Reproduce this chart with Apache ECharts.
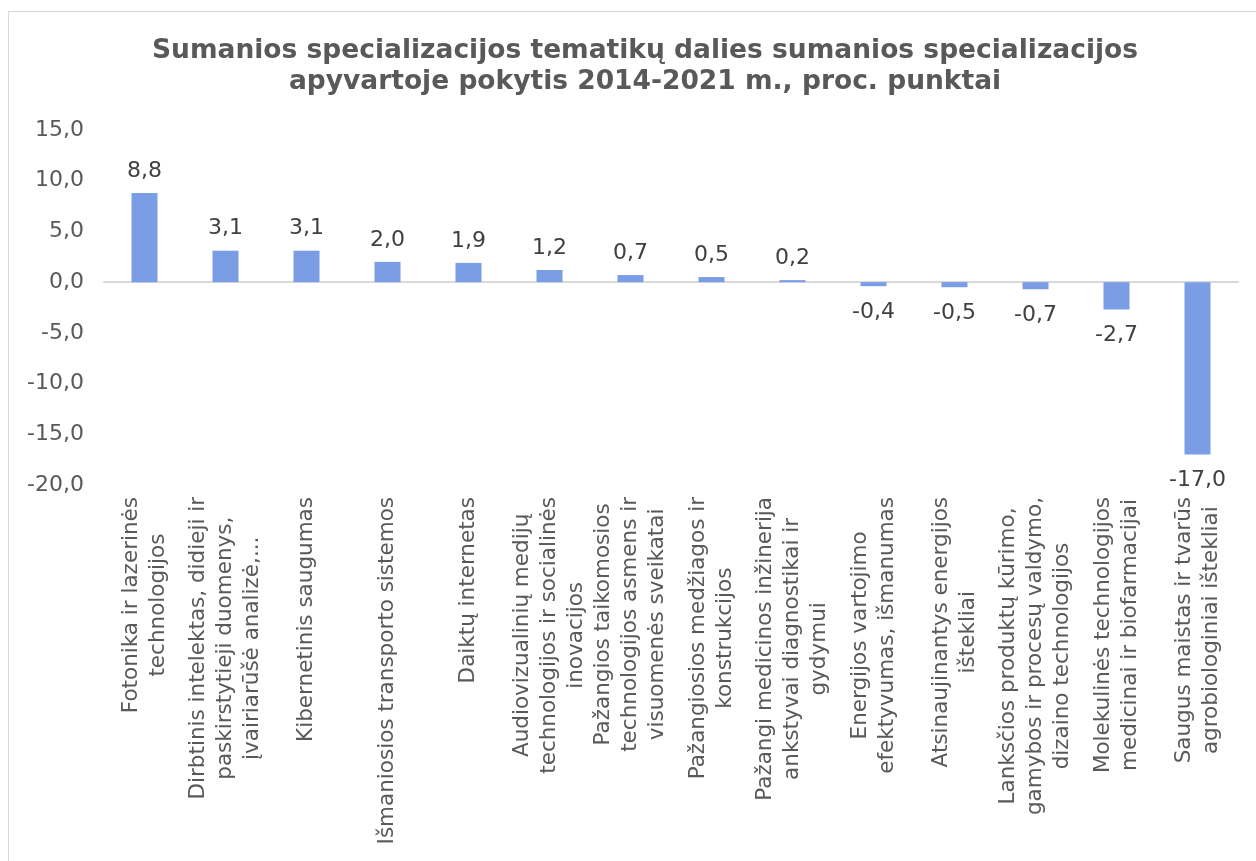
<!DOCTYPE html>
<html>
<head>
<meta charset="utf-8">
<script src="https://cdn.jsdelivr.net/npm/echarts@6/dist/echarts.min.js"></script>
<style>
  html, body { margin: 0; padding: 0; background: #fff; }
  #frame { position: absolute; left: 8px; top: 11px; width: 1300px; height: 900px; border: 1px solid #d9d9d9; }
  #main { position: absolute; left: 0; top: 0; width: 1256px; height: 861px; }
</style>
</head>
<body>
<div id="frame"></div>
<div id="main"></div>
<script>
const titleLines = [
  'Sumanios specializacijos tematikų dalies sumanios specializacijos',
  'apyvartoje pokytis 2014-2021 m., proc. punktai'
]

const categories = [
  'Fotonika ir lazerinės\ntechnologijos',
  'Dirbtinis intelektas, didieji ir\npaskirstytieji duomenys,\nįvairiarūšė analizė,...',
  'Kibernetinis saugumas',
  'Išmaniosios transporto sistemos',
  'Daiktų internetas',
  'Audiovizualinių medijų\ntechnologijos ir socialinės\ninovacijos',
  'Pažangios taikomosios\ntechnologijos asmens ir\nvisuomenės sveikatai',
  'Pažangiosios medžiagos ir\nkonstrukcijos',
  'Pažangi medicinos inžinerija\nankstyvai diagnostikai ir\ngydymui',
  'Energijos vartojimo\nefektyvumas, išmanumas',
  'Atsinaujinantys energijos\ništekliai',
  'Lanksčios produktų kūrimo,\ngamybos ir procesų valdymo,\ndizaino technologijos',
  'Molekulinės technologijos\nmedicinai ir biofarmacijai',
  'Saugus maistas ir tvarūs\nagrobiologiniai ištekliai'
]

const values = [8.8, 3.1, 3.1, 2.0, 1.9, 1.2, 0.7, 0.5, 0.2, -0.4, -0.5, -0.7, -2.7, -17.0]

const yMin = -20
const yMax = 15
const yStep = 5

const font = '"DejaVu Sans", Verdana, sans-serif'
const fmt = v => v.toFixed(1).replace('.', ',')

const chart = echarts.init(document.getElementById('main'))

const option = {
  animation: false,
  title: {
    text: titleLines.join('\n'),
    left: 640,
    textAlign: 'center',
    top: 31,
    textStyle: {
      fontFamily: font,
      fontSize: 26.5,
      fontWeight: 'bold',
      color: '#595959',
      lineHeight: 31
    }
  },
  grid: {
    left: 104,
    right: 18,
    top: 130,
    bottom: 376
  },
  xAxis: [
    {
      type: 'category',
      data: categories,
      axisLine: { onZero: true, lineStyle: { color: '#d9d9d9', width: 2 } },
      axisTick: { show: false },
      axisLabel: { show: false }
    },
    {
      type: 'category',
      data: categories,
      position: 'bottom',
      axisLine: { show: false, onZero: false },
      axisTick: { show: false },
      axisLabel: {
        interval: 0,
        rotate: 90,
        margin: 12,
        formatter: v => v.split('\n').map(s => '{c|' + s + '}').join('\n'),
        rich: {
          c: {
            align: 'center',
            fontFamily: font,
            fontSize: 21.5,
            lineHeight: 27,
            color: '#595959'
          }
        }
      }
    }
  ],
  yAxis: {
    type: 'value',
    min: yMin,
    max: yMax,
    interval: yStep,
    axisLine: { show: false },
    axisTick: { show: false },
    splitLine: { show: false },
    axisLabel: {
      margin: 20,
      formatter: v => fmt(v),
      fontFamily: font,
      fontSize: 22,
      color: '#595959'
    }
  },
  series: [
    {
      type: 'bar',
      xAxisIndex: 0,
      barWidth: 26,
      itemStyle: { color: '#7b9de6' },
      data: values.map(v => ({
        value: v,
        label: { position: v >= 0 ? 'top' : 'bottom', distance: v >= 0 ? 11 : 15 }
      })),
      label: {
        show: true,
        formatter: p => fmt(p.value),
        fontFamily: font,
        fontSize: 22,
        color: '#404040'
      }
    }
  ]
}

chart.setOption(option)
</script>
</body>
</html>
